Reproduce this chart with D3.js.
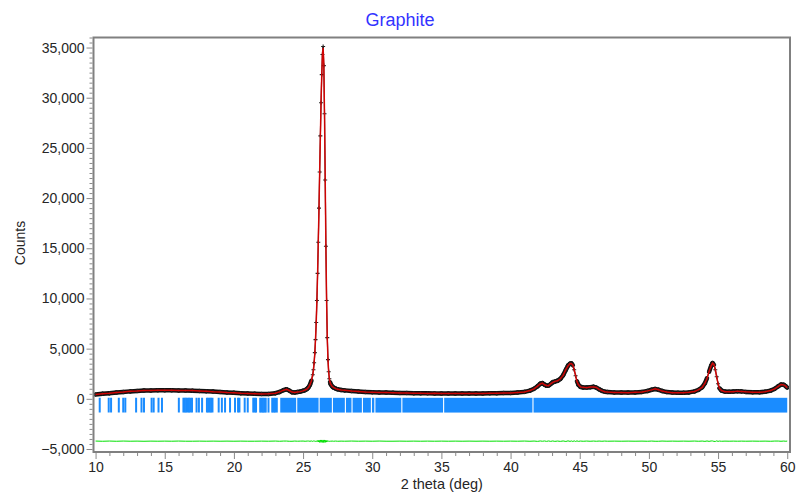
<!DOCTYPE html>
<html><head><meta charset="utf-8">
<script src="https://cdn.jsdelivr.net/npm/d3@7"></script>
<style>
body{margin:0;background:#fff;}
svg{display:block;font-family:Arial,"Liberation Sans",sans-serif;}
</style>
</head><body>
<svg id="c" width="798" height="494"></svg>
<script>
// ---- data ----
const twoTheta = [10.0,10.5,11.0,11.5,12.0,12.5,13.0,13.5,14.0,14.5,15.0,15.5,16.0,16.5,17.0,17.5,18.0,18.5,19.0,19.5,20.0,20.5,21.0,21.5,22.0,22.5,23.0,23.3,23.6,23.8,24.0,24.2,24.4,24.6,24.8,25.0,25.15,25.3,25.4,25.5,25.6,25.7,25.75,25.8,25.85,25.9,25.95,26.0,26.05,26.1,26.15,26.2,26.25,26.3,26.35,26.4,26.45,26.5,26.55,26.6,26.65,26.7,26.75,26.8,26.85,26.9,26.95,27.0,27.1,27.2,27.35,27.5,27.75,28.0,28.5,29.0,29.5,30.0,30.5,31.0,31.5,32.0,32.5,33.0,33.5,34.0,34.5,35.0,35.5,36.0,36.5,37.0,37.5,38.0,38.5,39.0,39.5,40.0,40.5,41.0,41.4,41.7,41.95,42.15,42.3,42.45,42.6,42.75,42.9,43.05,43.2,43.4,43.6,43.8,44.0,44.15,44.3,44.4,44.5,44.6,44.7,44.8,44.9,45.05,45.25,45.5,45.75,46.0,46.2,46.4,46.6,46.8,47.0,47.5,48.0,48.5,49.0,49.5,49.9,50.2,50.45,50.7,50.95,51.3,51.7,52.1,52.5,52.9,53.3,53.6,53.85,54.05,54.2,54.35,54.5,54.6,54.7,54.8,54.9,55.0,55.1,55.25,55.5,55.8,56.1,56.4,56.7,57.0,57.5,58.0,58.4,58.8,59.1,59.35,59.55,59.75,59.9,60.0];
const yObs = [430,500,560,620,680,740,780,820,840,850,850,845,840,830,815,790,760,720,680,640,600,565,530,500,480,490,560,680,870,950,820,660,630,670,720,800,870,1000,1150,1400,1800,2400,2900,3600,4600,5900,7600,9800,12500,15600,19000,22600,26200,29500,32300,34300,35100,33200,28400,21800,15200,9800,6100,3900,2700,2000,1650,1450,1250,1120,1020,950,880,840,780,730,690,660,640,620,600,590,575,565,555,545,540,535,535,530,530,535,530,540,545,555,570,590,620,690,820,1000,1250,1500,1560,1420,1300,1330,1480,1650,1720,1800,1980,2350,2900,3300,3500,3520,3350,2900,2300,1750,1400,1200,1130,1120,1160,1190,1120,950,800,710,670,640,620,620,640,690,780,900,980,900,780,670,620,600,605,640,740,900,1150,1550,2050,2700,3300,3560,3400,2900,2200,1500,1050,820,720,700,720,760,740,690,650,650,700,820,1000,1250,1420,1400,1250,1120];
const yCalc = [420,510,550,630,670,745,775,830,835,855,845,850,830,835,820,785,765,715,685,635,605,560,535,505,475,495,550,690,860,940,830,670,620,675,715,790,880,990,1140,1410,1780,2420,2880,3620,4570,5930,7560,9850,12440,15680,18900,22720,26080,29620,32180,34420,34980,33340,28280,21920,15100,9890,6040,3950,2670,2020,1640,1460,1240,1130,1010,960,875,845,770,735,685,665,630,625,605,585,580,560,560,540,545,530,540,525,535,530,535,535,550,550,575,585,625,680,830,990,1270,1480,1570,1400,1320,1310,1500,1630,1740,1790,2000,2330,2930,3270,3520,3500,3380,2870,2330,1720,1420,1190,1140,1110,1170,1180,1130,940,810,700,675,635,625,615,645,685,790,890,990,910,770,675,615,605,600,645,730,910,1140,1570,2030,2720,3280,3540,3420,2930,2170,1520,1040,830,715,705,715,765,735,695,645,655,695,830,990,1240,1430,1390,1260,1110];
const diffOffset = -4220;
const braggTicks = [10.3,10.95,11.12,11.68,12.0,12.15,12.93,13.32,13.5,14.05,14.2,14.55,14.8,16.02,16.35,16.45,16.55,16.65,16.75,16.85,16.97,17.3,17.47,17.7,18.05,18.15,18.25,18.35,18.45,18.9,19.13,19.36,19.72,20.08,20.3,20.4,20.78,21.0,21.4,21.5,21.6,21.9,22.0,22.1,22.2,22.3,22.5,22.77,22.87,22.97,23.1];
const braggBlocks = [[23.35,24.5],[24.58,26.12],[26.2,27.08],[27.16,28.02],[28.1,28.5],[28.58,29.25],[29.33,29.9],[29.98,30.15],[30.23,32.1],[32.18,35.12],[35.2,41.58],[41.66,60.0]];
const braggTop = 100, braggBottom = -1370;
const xMajorTicks = [10,15,20,25,30,35,40,45,50,55,60];
const yMajorTicks = [-5000,0,5000,10000,15000,20000,25000,30000,35000];
const titleText = "Graphite", xLabel = "2 theta (deg)", yLabel = "Counts";

// ---- layout ----
const m = {left:93.5, right:790, top:37.5, bottom:452};
const svg = d3.select("#c");
const x = d3.scaleLinear().domain([9.85, 60.2]).range([m.left, m.right]);
const y = d3.scaleLinear().domain([-5300, 36000]).range([m.bottom, m.top]);

svg.append("defs").append("clipPath").attr("id","clip")
  .append("rect").attr("x",m.left).attr("y",m.top).attr("width",m.right-m.left).attr("height",m.bottom-m.top);

const pts = twoTheta.map((t,i)=>({t, o:yObs[i], c:yCalc[i], d:yObs[i]-yCalc[i]+diffOffset}));
const g = svg.append("g").attr("clip-path","url(#clip)");

// Bragg ticks
g.append("g").selectAll("line").data(braggTicks).join("line")
  .attr("x1",d=>x(d)).attr("x2",d=>x(d)).attr("y1",y(braggTop)).attr("y2",y(braggBottom))
  .attr("stroke","#1a8cff").attr("stroke-width",2);
g.append("g").selectAll("rect").data(braggBlocks).join("rect")
  .attr("x",d=>x(d[0])).attr("width",d=>x(d[1])-x(d[0]))
  .attr("y",y(braggTop)).attr("height",y(braggBottom)-y(braggTop))
  .attr("fill","#1a8cff");

// difference
g.append("path").datum(pts)
  .attr("d", d3.line().x(d=>x(d.t)).y(d=>y(d.d)))
  .attr("fill","none").attr("stroke","#00e000").attr("stroke-width",1);

// observed (black band of overlapping markers)
const segs = pts.slice(0,-1).map((p,i)=>[p, pts[i+1]]);
g.append("g").selectAll("line").data(segs).join("line")
  .attr("x1",d=>x(d[0].t)).attr("y1",d=>y(d[0].o))
  .attr("x2",d=>x(d[1].t)).attr("y2",d=>y(d[1].o))
  .attr("stroke","#111").attr("stroke-linecap","round")
  .attr("stroke-width",d=>{
    const dx=Math.abs(x(d[1].t)-x(d[0].t)), dy=Math.abs(y(d[1].o)-y(d[0].o));
    return dy/dx>3 ? 1.2 : 4.5;
  });
g.append("g").selectAll("path").data(pts).join("path")
  .attr("d","M-2,0H2M0,-2V2")
  .attr("transform",d=>`translate(${x(d.t)},${y(d.o)})`)
  .attr("stroke","#222").attr("stroke-width",1.1);

// calculated
g.append("path").datum(pts)
  .attr("d", d3.line().x(d=>x(d.t)).y(d=>y(d.c)))
  .attr("fill","none").attr("stroke","#ee0000").attr("stroke-width",1.5).attr("stroke-opacity",0.85);

// axes
const fmt = d3.format(",");
const yMinor = d3.range(-5000, 36001, 500).filter(v=>v%5000!==0);
const xMinor = d3.range(10, 61, 1).filter(v=>v%5!==0);

const ax = svg.append("g").attr("transform",`translate(${m.left-1},0)`)
  .call(d3.axisLeft(y).tickValues(yMajorTicks).tickFormat(fmt).tickSize(6).tickPadding(2));
const axm = svg.append("g").attr("transform",`translate(${m.left-1},0)`)
  .call(d3.axisLeft(y).tickValues(yMinor).tickFormat("").tickSize(3));
const bx = svg.append("g").attr("transform",`translate(0,${m.bottom+1})`)
  .call(d3.axisBottom(x).tickValues(xMajorTicks).tickSize(6).tickPadding(3));
const bxm = svg.append("g").attr("transform",`translate(0,${m.bottom+1})`)
  .call(d3.axisBottom(x).tickValues(xMinor).tickFormat("").tickSize(3));
[ax,axm,bx,bxm].forEach(a=>{
  a.select(".domain").remove();
  a.selectAll("line").attr("stroke","#8a8a8a");
  a.selectAll("text").attr("font-size",14).attr("fill","#262626").attr("font-family","Arial, 'Liberation Sans', sans-serif");
});

// frame
svg.append("rect").attr("x",m.left).attr("y",m.top)
  .attr("width",m.right-m.left).attr("height",m.bottom-m.top)
  .attr("fill","none").attr("stroke","#808080").attr("stroke-width",2);

// titles
svg.append("text").attr("x",400).attr("y",26).attr("text-anchor","middle")
  .attr("font-size",18).attr("fill","#3333ff").text(titleText);
svg.append("text").attr("x",(m.left+m.right)/2).attr("y",489).attr("text-anchor","middle")
  .attr("font-size",14.5).attr("fill","#262626").text(xLabel);
svg.append("text").attr("transform","translate(25,243) rotate(-90)").attr("text-anchor","middle")
  .attr("font-size",14).attr("fill","#262626").text(yLabel);
</script>
</body></html>
